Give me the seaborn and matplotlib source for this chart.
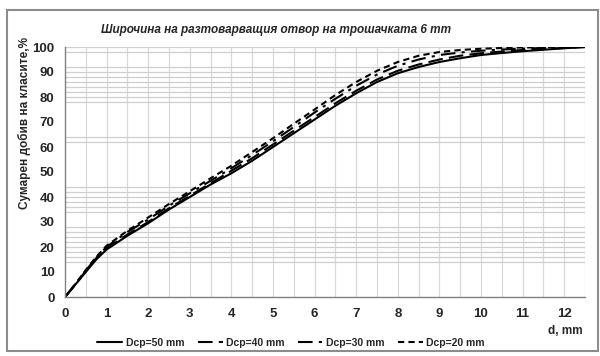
import pandas as pd
import numpy as np
import matplotlib
matplotlib.use('Agg')
import matplotlib.pyplot as plt
import seaborn as sns
from matplotlib.patches import Rectangle

# размер на зърната, mm
d = [0, 0.25, 0.5, 0.75, 1, 1.5, 2, 2.5, 3, 3.5, 4, 4.5, 5, 5.5, 6, 6.5,
     7, 7.5, 8, 8.5, 9, 9.5, 10, 10.5, 11, 11.5, 12, 12.5]

# сумарен добив, %
dcp50 = [0, 5, 10, 15, 19, 24.5, 29.5, 35, 40, 45, 49.5, 54.5, 60, 65.5, 71, 76.5,
         81.5, 86, 89.5, 92, 94, 95.5, 96.8, 97.6, 98.3, 98.9, 99.5, 100]
dcp40 = [0, 5, 10.5, 15.5, 19.5, 25, 30, 35.5, 40.5, 45.5, 50.5, 55.5, 61, 66.5, 72, 77.5,
         82.5, 87, 90.5, 93, 95, 96.5, 97.5, 98.2, 98.8, 99.2, 99.6, 100]
dcp30 = [0, 5.2, 10.5, 15.8, 20, 26, 31, 36.5, 41.5, 46.5, 51.5, 56.8, 62.3, 68, 73.8, 79.3,
         84.5, 89, 92.5, 95, 96.8, 97.8, 98.5, 99, 99.3, 99.6, 99.8, 100]
dcp20 = [0, 5.2, 10.8, 16, 20.5, 26.5, 31.8, 37.2, 42.3, 47.5, 52.5, 58, 63.5, 69.3, 75, 80.8,
         86, 90.5, 94, 96.5, 98, 98.8, 99.3, 99.6, 99.8, 99.9, 100, 100]

series = ['Dcp=50 mm', 'Dcp=40 mm', 'Dcp=30 mm', 'Dcp=20 mm']
values = [dcp50, dcp40, dcp30, dcp20]

# y-стойности на видимите хоризонтални линии на мрежата
hgrid = [14, 16, 18, 20, 22, 24, 26, 28, 34, 36, 38, 40, 42, 44, 62, 64,
         78, 80, 82, 84, 86, 88, 90, 92, 98, 100]

df = pd.concat([pd.DataFrame({'d': d, 'y': v, 'serie': s}) for s, v in zip(series, values)])

sns.set_style('white')
plt.rcParams['font.family'] = ['Liberation Sans', 'DejaVu Sans']

W, H = 600, 356
fig = plt.figure(figsize=(W / 100, H / 100), dpi=100)
ax = fig.add_axes([65 / W, (H - 297) / H, 520 / W, 250 / H])

# мрежа
for xv in np.arange(0.5, 12.51, 0.5):
    ax.axvline(xv, color='#d9d9d9', lw=0.9, zorder=0)
for yv in hgrid:
    ax.axhline(yv, color='#cfcfcf', lw=0.9, zorder=0)

dashes = {'Dcp=50 mm': '', 'Dcp=40 mm': (7, 3), 'Dcp=30 mm': (7, 3, 1.5, 3), 'Dcp=20 mm': (3, 2)}
sns.lineplot(data=df, x='d', y='y', style='serie', dashes=dashes, color='black',
             linewidth=1.5, ax=ax, legend=True)

ax.set_xlim(0, 12.5)
ax.set_ylim(0, 100)
ax.set_xticks(range(0, 13))
ax.set_yticks(range(0, 101, 10))
ax.tick_params(axis='both', labelsize=9.5, length=4, width=0.8, color='#808080', direction='out')
ax.tick_params(axis='x', length=0, pad=8)
for lab in ax.get_xticklabels() + ax.get_yticklabels():
    lab.set_fontweight('bold')
for s in ['top', 'right']:
    ax.spines[s].set_visible(False)
for s in ['left', 'bottom']:
    ax.spines[s].set_color('#808080')
    ax.spines[s].set_linewidth(1)
ax.set_xlabel('')
ax.set_ylabel('')

fig.text(276 / W, 1 - 30 / H, 'Широчина на разтоварващия отвор на трошачката 6 mm',
         ha='center', va='center', fontsize=8.5, fontweight='bold', fontstyle='italic')
fig.text(24 / W, 1 - 123 / H, 'Сумарен добив на класите,%', rotation=90,
         ha='center', va='center', fontsize=8.5, fontweight='bold')
fig.text(565 / W, 1 - 331 / H, 'd, mm', ha='center', va='center', fontsize=8.5, fontweight='bold')

leg = ax.legend(loc='center', bbox_to_anchor=(291 / W, 1 - 343 / H), bbox_transform=fig.transFigure,
                ncol=4, frameon=False, handlelength=2.4, columnspacing=1.3, handletextpad=0.3,
                fontsize=7.5, title=None)
for t in leg.get_texts():
    t.set_fontweight('bold')

fig.patches.append(Rectangle((7 / W, 1 - 351 / H), 591 / W, 341 / H, transform=fig.transFigure,
                             fill=False, edgecolor='#8c8c8c', lw=1.5))

fig.savefig('out.png', dpi=100)
